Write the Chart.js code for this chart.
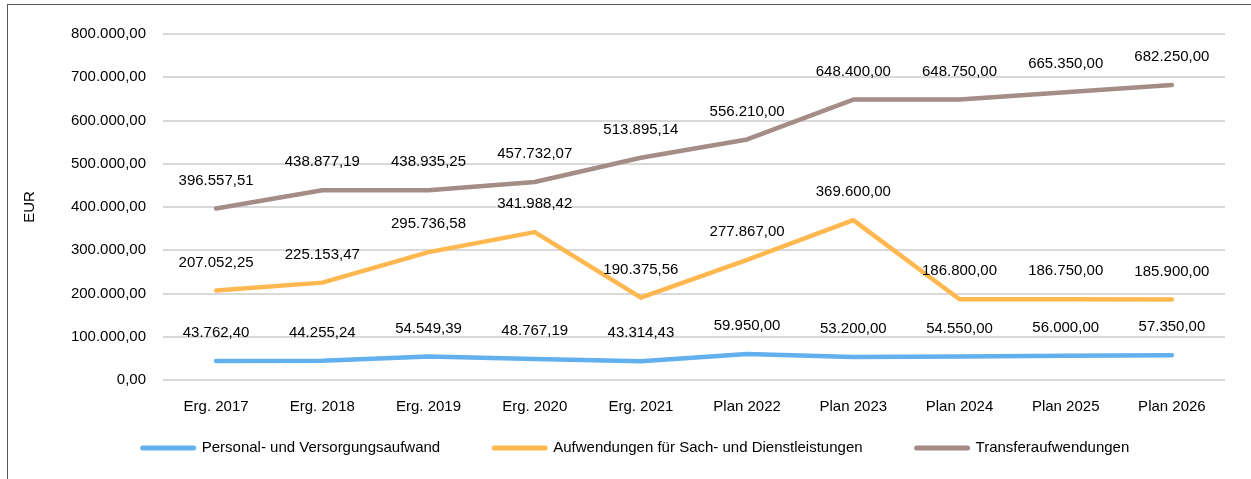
<!DOCTYPE html>
<html>
<head>
<meta charset="utf-8">
<script src="https://cdn.jsdelivr.net/npm/chart.js@4.4.1/dist/chart.umd.min.js"></script>
<style>
  body { margin: 0; background: #fff; }
  #frame { position: absolute; left: 7px; top: 4px; width: 1300px; height: 500px;
           border-left: 1px solid #595959; border-top: 1px solid #595959; }
  #wrap { position: absolute; left: 0; top: 0; width: 1251px; height: 479px; }
</style>
</head>
<body>
<div id="frame"></div>
<div id="wrap"><canvas id="chart"></canvas></div>
<script>
// Kategorien und Werte (EUR)
var years = ['Erg. 2017', 'Erg. 2018', 'Erg. 2019', 'Erg. 2020', 'Erg. 2021',
             'Plan 2022', 'Plan 2023', 'Plan 2024', 'Plan 2025', 'Plan 2026'];
var personal = [43762.40, 44255.24, 54549.39, 48767.19, 43314.43, 59950.00, 53200.00, 54550.00, 56000.00, 57350.00];
var sachDienst = [207052.25, 225153.47, 295736.58, 341988.42, 190375.56, 277867.00, 369600.00, 186800.00, 186750.00, 185900.00];
var transfer = [396557.51, 438877.19, 438935.25, 457732.07, 513895.14, 556210.00, 648400.00, 648750.00, 665350.00, 682250.00];
var yTickLabels = ['0,00', '100.000,00', '200.000,00', '300.000,00', '400.000,00',
                   '500.000,00', '600.000,00', '700.000,00', '800.000,00'];

var FONT = '"Liberation Sans", Arial, sans-serif';

// Zahl im deutschen Format, z.B. 396.557,51
function fmt(v) {
    var parts = v.toFixed(2).split('.');
    parts[0] = parts[0].replace(/\B(?=(\d{3})+(?!\d))/g, '.');
    return parts[0] + ',' + parts[1];
}

// Werte über die Punkte schreiben
var valueLabels = {
    id: 'valueLabels',
    afterDatasetsDraw: function (chart) {
        var ctx = chart.ctx;
        ctx.save();
        ctx.font = '15px ' + FONT;
        ctx.fillStyle = '#000';
        ctx.textAlign = 'center';
        ctx.textBaseline = 'middle';
        chart.data.datasets.forEach(function (ds, i) {
            chart.getDatasetMeta(i).data.forEach(function (pt, j) {
                ctx.fillText(fmt(ds.data[j]), pt.x, pt.y - 28);
            });
        });
        ctx.restore();
    }
};

// Legende unten, wie im Excel-Diagramm (Linie + Text, breite Abstände)
var bottomLegend = {
    id: 'bottomLegend',
    afterDraw: function (chart) {
        var ctx = chart.ctx;
        var lineLen = 55, textGap = 6, itemGap = 52, y = 448, center = 635;
        ctx.save();
        ctx.font = '15px ' + FONT;
        var sets = chart.data.datasets;
        var total = 0;
        sets.forEach(function (ds, i) {
            total += lineLen + textGap + ctx.measureText(ds.label).width;
            if (i < sets.length - 1) total += itemGap;
        });
        var x = center - total / 2;
        sets.forEach(function (ds) {
            ctx.strokeStyle = ds.borderColor;
            ctx.lineWidth = 5;
            ctx.lineCap = 'round';
            ctx.beginPath();
            ctx.moveTo(x + 2, y);
            ctx.lineTo(x + lineLen - 2, y);
            ctx.stroke();
            x += lineLen + textGap;
            ctx.fillStyle = '#000';
            ctx.textAlign = 'left';
            ctx.textBaseline = 'middle';
            ctx.fillText(ds.label, x, y);
            x += ctx.measureText(ds.label).width + itemGap;
        });
        ctx.restore();
    }
};

var ctx = document.getElementById('chart').getContext('2d');
var chart = new Chart(ctx, {
    type: 'line',
    data: {
        labels: years,
        datasets: [{
            label: 'Personal- und Versorgungsaufwand',
            data: personal,
            borderColor: '#62b0ee'
        }, {
            label: 'Aufwendungen für Sach- und Dienstleistungen',
            data: sachDienst,
            borderColor: '#ffb84f'
        }, {
            label: 'Transferaufwendungen',
            data: transfer,
            borderColor: '#a38d86'
        }]
    },
    options: {
        responsive: true,
        maintainAspectRatio: false,
        animation: false,
        layout: { padding: { left: 12, right: 26, top: 34, bottom: 49 } },
        elements: {
            line: { borderWidth: 4.5, tension: 0, borderCapStyle: 'round', borderJoinStyle: 'round' },
            point: { radius: 0, hoverRadius: 0 }
        },
        plugins: {
            tooltip: { enabled: false },
            legend: { display: false }
        },
        scales: {
            x: {
                offset: true,
                grid: { display: false },
                border: { display: false },
                ticks: { color: '#000', font: { family: FONT, size: 15 }, padding: 10, maxRotation: 0 },
                afterFit: function (scale) { scale.height = 50; }
            },
            y: {
                min: 0,
                max: 800000,
                border: { display: false },
                grid: { color: '#d9d9d9', lineWidth: 2, drawTicks: false },
                ticks: {
                    stepSize: 100000,
                    color: '#000',
                    padding: 17,
                    font: { family: FONT, size: 15 },
                    callback: function (value, index) { return yTickLabels[index]; }
                },
                title: {
                    display: true,
                    text: 'EUR',
                    color: '#000',
                    font: { family: FONT, size: 15 },
                    padding: { top: 9, bottom: 0 }
                },
                afterFit: function (scale) { scale.width = 151; }
            }
        }
    },
    plugins: [valueLabels, bottomLegend]
});
</script>
</body>
</html>
